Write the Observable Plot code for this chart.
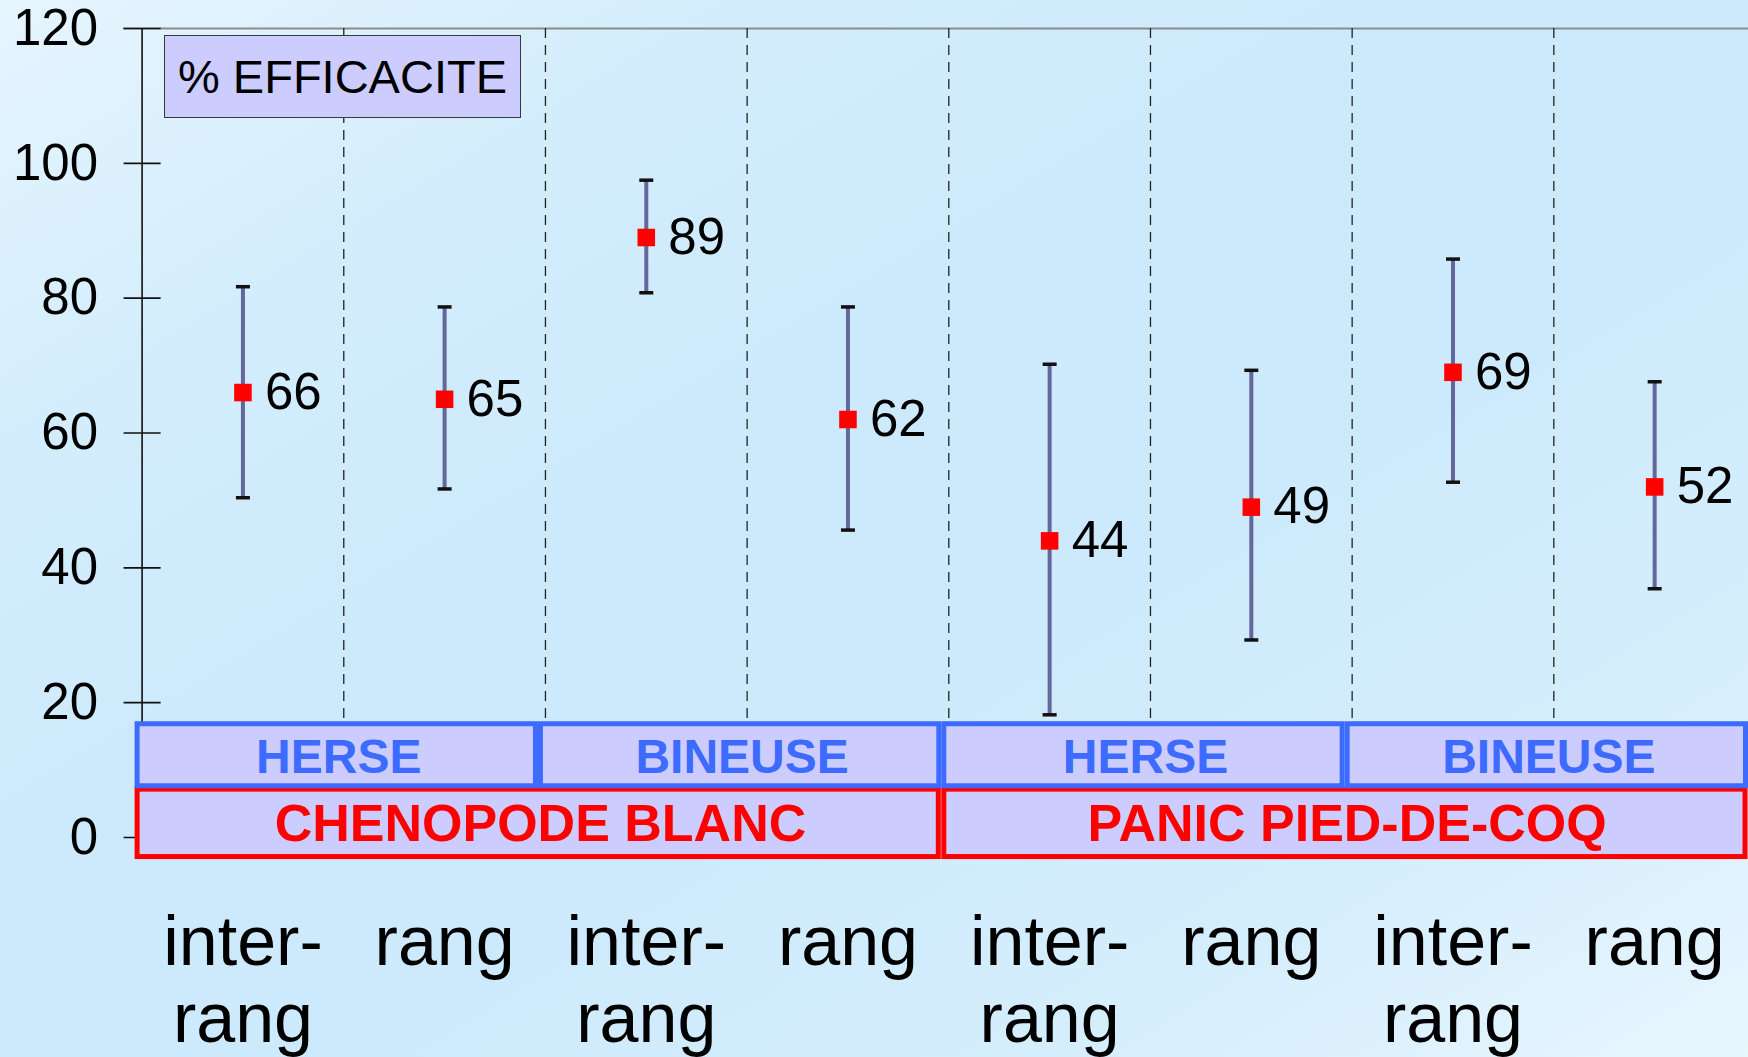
<!DOCTYPE html>
<html>
<head>
<meta charset="utf-8">
<script src="https://cdn.jsdelivr.net/npm/d3@7"></script>
<script src="https://cdn.jsdelivr.net/npm/@observablehq/plot@0.6"></script>
<style>
  html, body { margin: 0; padding: 0; }
  body {
    width: 1748px; height: 1057px; overflow: hidden;
    background: linear-gradient(to bottom right, #e6f5fe 0%, #d3edfc 22%, #cdeafc 40%, #cdeafc 60%, #d5eefc 80%, #e8f6fe 100%);
    font-family: "Liberation Sans", Arial, sans-serif;
  }
  #wrap { position: relative; width: 1748px; height: 1057px; }
  #legend {
    position: absolute; left: 164px; top: 35px; width: 355px; height: 81px;
    background: #ccccff; border: 1.5px solid #3a3a3a;
    display: flex; align-items: center; justify-content: center;
    font-size: 47px; color: #000; box-sizing: content-box;
  }
  svg { display: block; }
</style>
</head>
<body>
<div id="wrap">
  <div id="chart"></div>
  <div id="legend">% EFFICACITE</div>
</div>
<script>
// ---- data ----
const categories = ["inter-rang", "rang", "inter-rang", "rang", "inter-rang", "rang", "inter-rang", "rang"];
const values = [66, 65, 89, 62, 44, 49, 69, 52];
const lows   = [50.4, 51.7, 80.8, 45.6, 18.2, 29.3, 52.7, 36.9];
const highs  = [81.7, 78.7, 97.5, 78.7, 70.2, 69.3, 85.8, 67.6];
const tools = ["HERSE", "BINEUSE", "HERSE", "BINEUSE"];      // each spans 2 categories
const toolSpan = 2;
const weeds = ["CHENOPODE BLANC", "PANIC PIED-DE-COQ"];      // each spans 4 categories
const weedSpan = 4;
const yTicks = [0, 20, 40, 60, 80, 100, 120];

// ---- derived tables ----
const points = values.map((v, i) => ({x: i + 0.5, v, lo: lows[i], hi: highs[i], cat: categories[i]}));
const toolBoxes = tools.map((t, j) => ({t, x1: j * toolSpan, x2: (j + 1) * toolSpan}));
const weedBoxes = weeds.map((t, j) => ({t, x1: j * weedSpan, x2: (j + 1) * weedSpan}));
const separators = d3.range(1, categories.length);

// horizontal bar symbol (used for error-bar caps and axis ticks)
const hbar = {draw(ctx, size) { const w = Math.sqrt(size); ctx.moveTo(-w / 2, 0); ctx.lineTo(w / 2, 0); }};

const chart = Plot.plot({
  width: 1748,
  height: 1057,
  marginLeft: 123,
  marginRight: 0,
  marginTop: 0,
  marginBottom: 0,
  style: {background: "transparent", fontFamily: "'Liberation Sans', Arial, sans-serif", color: "#000"},
  x: {domain: [0, categories.length], range: [141.6, 1755], axis: null},
  y: {domain: [0, 120], range: [837, 28], axis: null},
  marks: [
    Plot.ruleY([120], {stroke: "#8c8c8c", strokeWidth: 2}),
    Plot.ruleX(separators, {y1: 0, y2: 120, stroke: "#222", strokeWidth: 1.3, strokeDasharray: "10,7"}),
    Plot.ruleX([0], {y1: 0, y2: 120, stroke: "#111", strokeWidth: 1.6}),
    Plot.dot(yTicks, {x: 0, y: d => d, symbol: hbar, r: 20.9, stroke: "#111", strokeWidth: 1.6, fill: "none"}),
    Plot.text(yTicks, {x: 0, y: d => d, text: d => String(d), textAnchor: "end", dx: -44, fontSize: 51, fill: "#000"}),
    // error bars
    Plot.ruleX(points, {x: "x", y1: "lo", y2: "hi", stroke: "#63679b", strokeWidth: 4}),
    Plot.dot(points, {x: "x", y: "lo", symbol: hbar, r: 7.9, stroke: "#111", strokeWidth: 3.5, fill: "none"}),
    Plot.dot(points, {x: "x", y: "hi", symbol: hbar, r: 7.9, stroke: "#111", strokeWidth: 3.5, fill: "none"}),
    Plot.dot(points, {x: "x", y: "v", symbol: "square", r: 9.9, fill: "#ff0000", stroke: "none"}),
    Plot.text(points, {x: "x", y: "v", text: d => String(d.v), textAnchor: "start", dx: 22, fontSize: 51, fill: "#000"}),
    // group boxes
    Plot.rect(weedBoxes, {x1: "x1", x2: "x2", y1: -2.9, y2: 7.1, fill: "#ccccff", stroke: "#ff0000", strokeWidth: 5, dx: -5, insetLeft: 0.5, insetRight: 5}),
    Plot.rect(toolBoxes, {x1: "x1", x2: "x2", y1: 7.6, y2: 16.8, fill: "#ccccff", stroke: "#3d6bff", strokeWidth: 5, dx: -5, insetLeft: 0.5, insetRight: 4.5}),
    Plot.text(toolBoxes, {x: d => (d.x1 + d.x2) / 2, y: 11.8, text: "t", fill: "#3d6bff", fontWeight: "bold", fontSize: 48, dx: -5}),
    Plot.text(weedBoxes, {x: d => (d.x1 + d.x2) / 2, y: 2.0, text: "t", fill: "#ff0000", fontWeight: "bold", fontSize: 52, dx: -5}),
    // category labels
    Plot.text(points, {x: "x", y: 0, text: d => d.cat.replace("-", "-\n"), fontSize: 70, lineAnchor: "top", lineHeight: 1.11, dy: 72, fill: "#000"})
  ]
});
document.getElementById("chart").appendChild(chart);
</script>
</body>
</html>
